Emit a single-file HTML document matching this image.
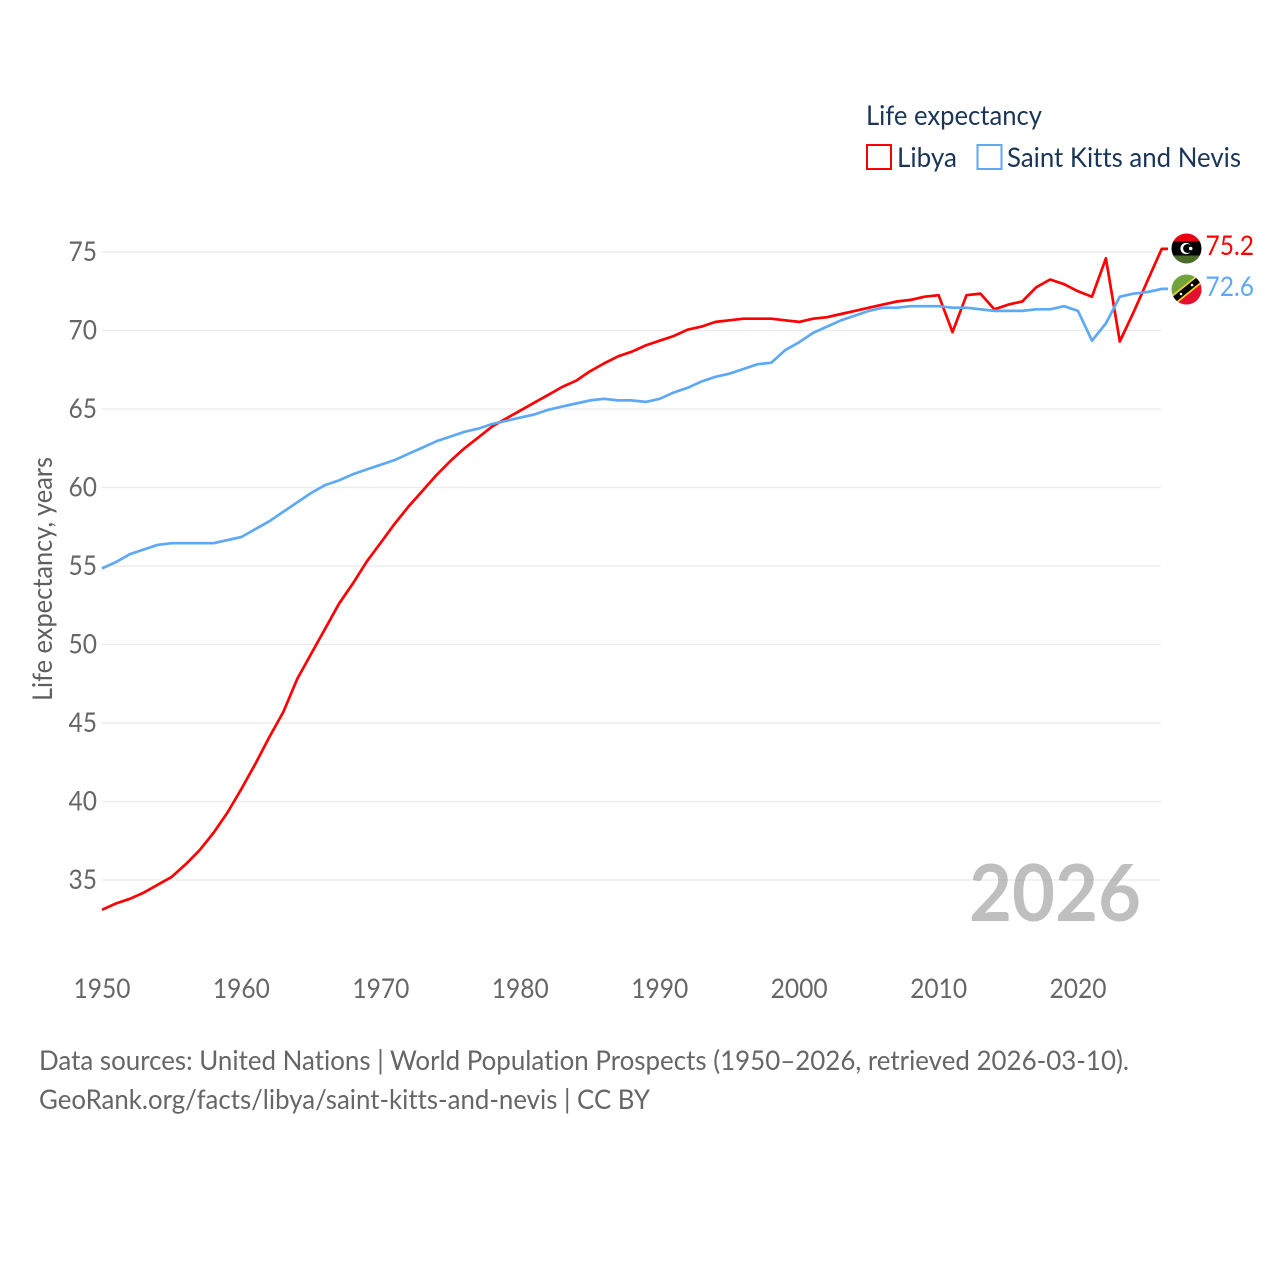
<!DOCTYPE html>
<html lang="en">
<head>
<meta charset="utf-8">
<title>Life expectancy: Libya and Saint Kitts and Nevis</title>
<style>
html,body{margin:0;padding:0;background:#fff;}
svg{display:block;}
text{font-family:"Lato","Carlito","Liberation Sans",sans-serif;font-variant-ligatures:none;}
</style>
</head>
<body>
<svg id="chart" xmlns="http://www.w3.org/2000/svg" width="1280" height="1280" viewBox="0 0 1280 1280">
  <rect x="0" y="0" width="1280" height="1280" fill="#ffffff"/>
  <g id="grid"></g>
  <g id="yticks"></g>
  <g id="xticks"></g>
  <text transform="translate(52,701) rotate(-90)" font-size="27" fill="#5f5f5f" textLength="244" lengthAdjust="spacingAndGlyphs">Life expectancy, years</text>
  <text x="969" y="921" font-size="79" font-weight="700" fill="#8c8c8c" fill-opacity="0.56" textLength="172" lengthAdjust="spacingAndGlyphs">2026</text>
  <polyline id="line-libya" fill="none" stroke="#ff0000" stroke-width="2.7" stroke-linejoin="round"/>
  <polyline id="line-skn" fill="none" stroke="#5ea9f5" stroke-width="2.7" stroke-linejoin="round"/>

  <g>
    <text x="866" y="125" font-size="27" fill="#1a3557" textLength="176" lengthAdjust="spacingAndGlyphs">Life expectancy</text>
    <rect x="867" y="145" width="24" height="24" fill="none" stroke="#ff0000" stroke-width="2"/>
    <text x="897" y="167" font-size="27.5" fill="#1a3557" textLength="60" lengthAdjust="spacingAndGlyphs">Libya</text>
    <rect x="977.5" y="145" width="24" height="24" fill="none" stroke="#5ea9f5" stroke-width="2"/>
    <text x="1007" y="167" font-size="27.5" fill="#1a3557" textLength="234" lengthAdjust="spacingAndGlyphs">Saint Kitts and Nevis</text>
  </g>

  <defs>
    <clipPath id="clip-ly"><circle cx="1186.5" cy="248.5" r="15"/></clipPath>
    <clipPath id="clip-kn"><circle cx="1186.5" cy="289.5" r="15"/></clipPath>
  </defs>
  <g clip-path="url(#clip-ly)">
    <rect x="1171" y="233" width="31" height="9" fill="#e70013"/>
    <rect x="1171" y="241.5" width="31" height="14.5" fill="#000000"/>
    <rect x="1171" y="255.5" width="31" height="9" fill="#4a6b2a"/>
    <circle cx="1186" cy="248.5" r="5.6" fill="#ffffff"/>
    <circle cx="1187.6" cy="248.5" r="4.5" fill="#000000"/>
    <circle cx="1190.7" cy="248.5" r="1.8" fill="#ffffff"/>
  </g>
  <g clip-path="url(#clip-kn)">
    <rect x="1171" y="274" width="31" height="31" fill="#70a33c"/>
    <polygon points="1207,273 1207,308 1166,308" fill="#e3102f"/>
    <line x1="1166" y1="306" x2="1207" y2="273" stroke="#f6d21e" stroke-width="9.5"/>
    <line x1="1166" y1="306" x2="1207" y2="273" stroke="#000000" stroke-width="6"/>
    <circle cx="1181" cy="294" r="1.3" fill="#ffffff"/>
    <circle cx="1192" cy="285" r="1.3" fill="#ffffff"/>
  </g>
  <text id="value-libya" x="1205.5" y="255" font-size="27.5" fill="#ff0000" textLength="48.5" lengthAdjust="spacingAndGlyphs">75.2</text>
  <text id="value-skn" x="1205.5" y="296" font-size="27.5" fill="#5ea9f5" textLength="48.5" lengthAdjust="spacingAndGlyphs">72.6</text>

  <g>
    <text x="39" y="1070" font-size="27.5" fill="#666666" textLength="1090" lengthAdjust="spacingAndGlyphs">Data sources: United Nations | World Population Prospects (1950–2026, retrieved 2026-03-10).</text>
    <text x="39" y="1109" font-size="27.5" fill="#666666" textLength="611" lengthAdjust="spacingAndGlyphs">GeoRank.org/facts/libya/saint-kitts-and-nevis | CC BY</text>
  </g>
</svg>
<script>
const startYear = 1950;
const yTickValues = [35, 40, 45, 50, 55, 60, 65, 70, 75];
const xTickValues = [1950, 1960, 1970, 1980, 1990, 2000, 2010, 2020];
const libyaValues = [33.1,33.5,33.8,34.2,34.7,35.2,36.0,36.9,38.0,39.3,
  40.8,42.4,44.1,45.7,47.8,49.4,51.0,52.6,53.9,55.3,
  56.5,57.7,58.8,59.8,60.8,61.7,62.5,63.2,63.9,64.4,
  64.9,65.4,65.9,66.4,66.8,67.4,67.9,68.35,68.65,69.05,
  69.35,69.65,70.05,70.25,70.55,70.65,70.75,70.75,70.75,70.65,
  70.55,70.75,70.85,71.05,71.25,71.45,71.65,71.85,71.95,72.15,
  72.25,69.9,72.25,72.35,71.35,71.65,71.85,72.75,73.25,72.95,
  72.5,72.15,74.6,69.3,71.2,73.2,75.2];
const sknValues = [54.85,55.25,55.75,56.05,56.35,56.45,56.45,56.45,56.45,56.65,
  56.85,57.35,57.85,58.45,59.05,59.65,60.15,60.45,60.85,61.15,
  61.45,61.75,62.15,62.55,62.95,63.25,63.55,63.75,64.05,64.25,
  64.45,64.65,64.95,65.15,65.35,65.55,65.65,65.55,65.55,65.45,
  65.65,66.05,66.35,66.75,67.05,67.25,67.55,67.85,67.95,68.75,
  69.25,69.85,70.25,70.65,70.95,71.25,71.45,71.45,71.55,71.55,
  71.55,71.45,71.45,71.35,71.25,71.25,71.25,71.35,71.35,71.55,
  71.25,69.35,70.45,72.15,72.35,72.45,72.65];

const SVGNS = 'http://www.w3.org/2000/svg';
function xScale(year){ return 102 + (year - 1950) * 13.943; }
function yScale(v){ return 252 + (75 - v) * 15.7; }
function linePoints(values){
  const pts = values.map(function(v, i){
    return xScale(startYear + i).toFixed(1) + ',' + yScale(v).toFixed(1);
  });
  const last = values[values.length - 1];
  pts.push('1168,' + yScale(last).toFixed(1));
  return pts.join(' ');
}

const gridGroup = document.getElementById('grid');
const yGroup = document.getElementById('yticks');
const xGroup = document.getElementById('xticks');

yTickValues.forEach(function(v){
  const line = document.createElementNS(SVGNS, 'line');
  
  
  line.setAttribute('x1', 102);
  line.setAttribute('x2', 1161);
  line.setAttribute('y1', yScale(v));
  line.setAttribute('y2', yScale(v));
  line.setAttribute('stroke', '#ebebeb');
  line.setAttribute('stroke-width', '1.2');
  gridGroup.appendChild(line);

  const label = document.createElementNS(SVGNS, 'text');
  
  
  label.setAttribute('x', 97);
  label.setAttribute('y', yScale(v) + 9);
  label.setAttribute('text-anchor', 'end');
  label.setAttribute('font-size', '27.5');
  label.setAttribute('fill', '#666666');
  label.setAttribute('textLength', '28.5');
  label.setAttribute('lengthAdjust', 'spacingAndGlyphs');
  label.textContent = String(v);
  yGroup.appendChild(label);
});

xTickValues.forEach(function(year){
  const label = document.createElementNS(SVGNS, 'text');
  
  
  label.setAttribute('x', xScale(year));
  label.setAttribute('y', 998);
  label.setAttribute('text-anchor', 'middle');
  label.setAttribute('font-size', '27.5');
  label.setAttribute('fill', '#666666');
  label.setAttribute('textLength', '57');
  label.setAttribute('lengthAdjust', 'spacingAndGlyphs');
  label.textContent = String(year);
  xGroup.appendChild(label);
});

document.getElementById('line-libya').setAttribute('points', linePoints(libyaValues));
document.getElementById('line-skn').setAttribute('points', linePoints(sknValues));
</script>
</body>
</html>
